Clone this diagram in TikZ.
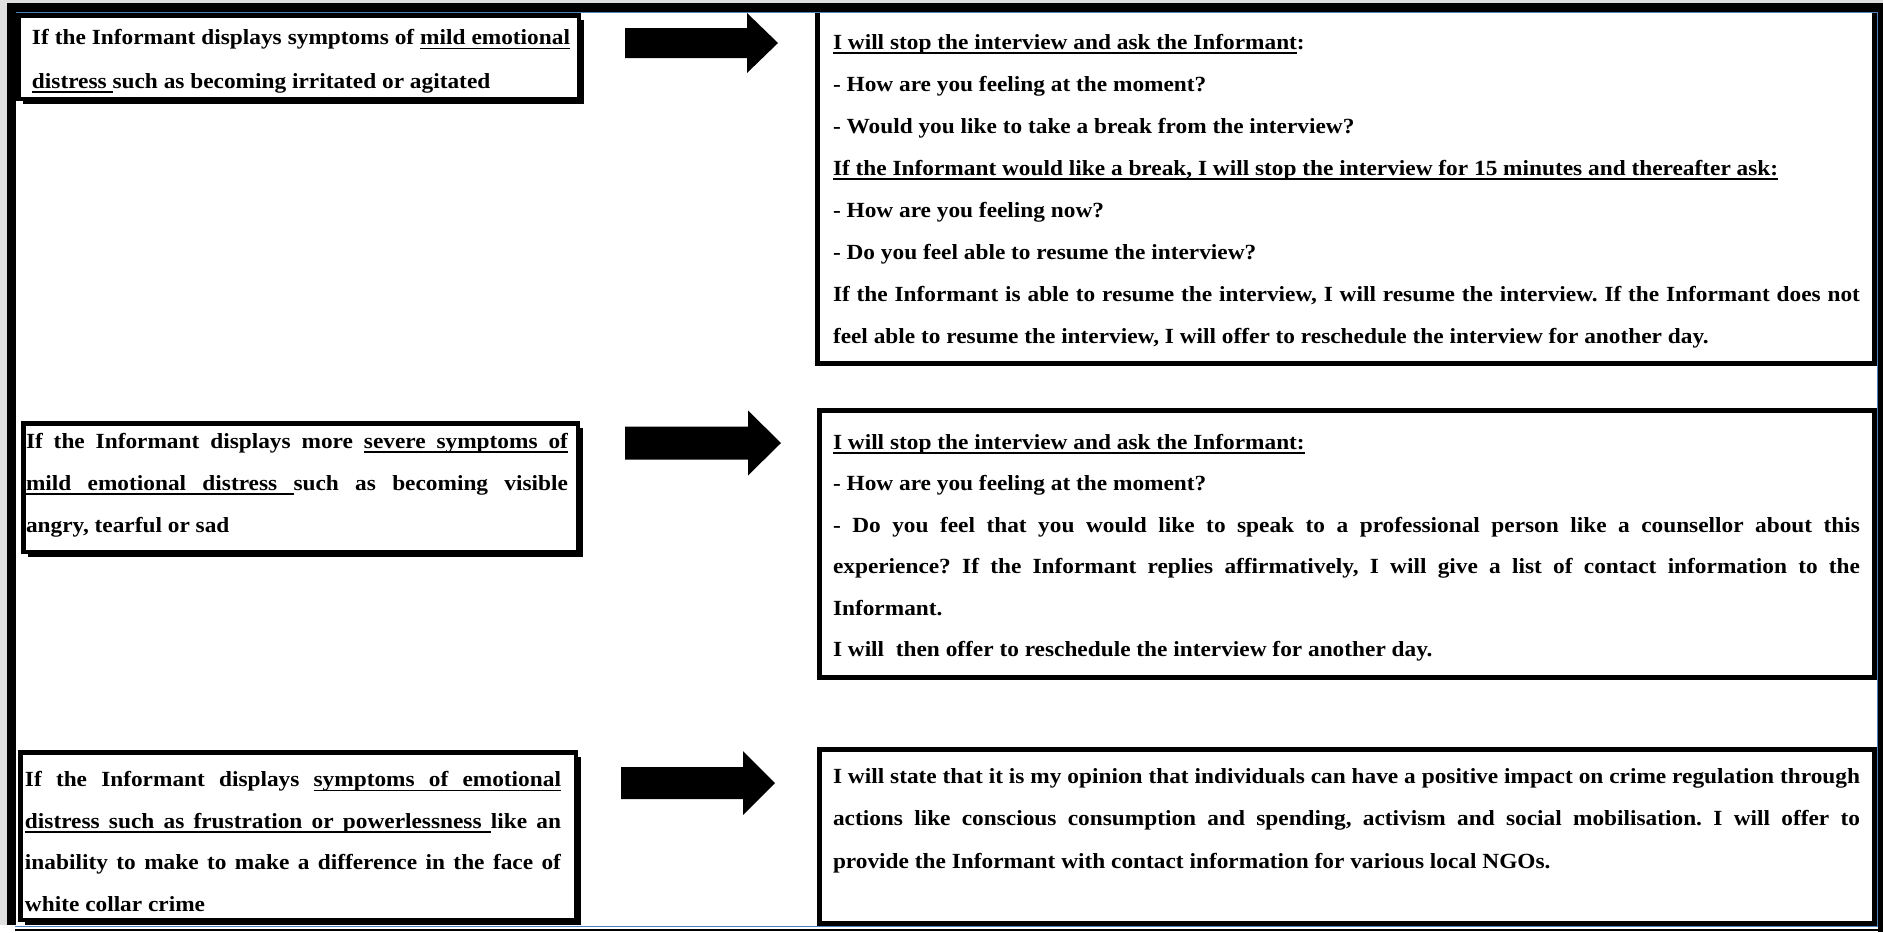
\documentclass[tikz,border=0pt]{standalone}
\usepackage{fontspec}
\setmainfont{Liberation Serif}[FakeStretch=1.08]
\usetikzlibrary{fit,shadows}

\definecolor{frameblue}{RGB}{79,129,189}
\definecolor{edgegray}{RGB}{222,222,222}

% underlining: each word gets a rule, each space a stretchable ruled glue
\newcommand\uword[1]{\setbox0\hbox{#1}\rlap{\vrule height -1.5pt depth 2.4pt width \wd0}\box0}
\newcommand\usp{\leaders\hrule height -1.5pt depth 2.4pt
  \hskip\fontdimen2\font plus\fontdimen3\font minus\fontdimen4\font\relax}
\def\ul#1{\ulA#1 \ulend}
\def\ulA#1 #2\ulend{\uword{#1}\ifx\relax#2\relax\else\usp\ulA#2\ulend\fi}

% one justified row / one left-aligned row of a text block
\newcommand\jrow[1]{\hbox to\linewidth{#1}}
\newcommand\lrow[1]{\hbox to\linewidth{#1\hfil}}
% text block: width, baseline skip, rows
\newcommand\boxtext[3]{\parbox[t]{#1}{\fontsize{10.8pt}{#2}\selectfont\bfseries\frenchspacing #3}}

% block arrow: x start, x tip, y centre, shaft half width, head half width, head length
\newcommand\blockarrow[6]{%
  \fill (#1,#3-#4) -- (#2-#6,#3-#4) -- (#2-#6,#3-#5) -- (#2,#3)
        -- (#2-#6,#3+#5) -- (#2-#6,#3+#4) -- (#1,#3+#4) -- cycle;}

\tikzset{
  rbox/.style={draw, line width=2.5pt, fill=white, inner sep=0pt, outer sep=0pt},
  lbox/.style={draw, line width=2.25pt, fill=white, inner sep=0pt, outer sep=0pt,
    drop shadow={opacity=1, fill=black, shadow xshift=2.6pt, shadow yshift=-2.6pt}},
  txt/.style={anchor=base west, inner sep=0pt, outer sep=0pt},
}

\begin{document}
\begin{tikzpicture}[x=0.5pt, y=-0.5pt]
\fill[white] (0,0) rectangle (1883,932);
\useasboundingbox (0,0) rectangle (1883,932);

% condition boxes (left) and response boxes (right)
\node[lbox, fit={(18.25,15.25) (578.75,98.75)}] (L1) {};
\node[lbox, fit={(23.25,423.25) (577.75,551.75)}] (L2) {};
\node[lbox, fit={(20.25,752.25) (575.75,919.75)}] (L3) {};
\node[rbox, fit={(817.5,10.5) (1874.5,363.5)}] (R1) {};
\node[rbox, fit={(819.5,410.5) (1874.5,677.5)}] (R2) {};
\node[rbox, fit={(819.5,749.5) (1874.5,923.5)}] (R3) {};

% outer frame
\fill[edgegray] (0,0) rectangle (7,925);
\fill[edgegray] (0,0) rectangle (1883,3);
\fill (7,3) rectangle (1883,12);
\fill (7,3) rectangle (15.5,925);
\fill (1878,3) rectangle (1883,932);
\fill (15,929) rectangle (1883,931);
\draw[frameblue, line width=0.7pt] (15.5,12.7) -- (1877.3,12.7) -- (1877.3,926.5) -- (15,926.5);

% arrows from each condition to its response
\blockarrow{625}{778}{43}{15}{30}{31}
\blockarrow{625}{781}{443}{16.5}{32.5}{33}
\blockarrow{621}{775}{783}{16}{32}{32}

% texts
\node[txt] (T1) at (32,44.5) {\boxtext{269pt}{21.75pt}{%
  \jrow{If the Informant displays symptoms of \ul{mild emotional}}
  \lrow{\ul{distress }such as becoming irritated or agitated}}};

\node[txt] (T2) at (26,448) {\boxtext{271pt}{21pt}{%
  \jrow{If the Informant displays more \ul{severe symptoms of}}
  \jrow{\ul{mild emotional distress }such as becoming visible}
  \lrow{angry, tearful or sad}}};

\node[txt] (T3) at (25,786.5) {\boxtext{268pt}{20.8pt}{%
  \jrow{If the Informant displays \ul{symptoms of emotional}}
  \jrow{\ul{distress such as frustration or powerlessness }like an}
  \jrow{inability to make to make a difference in the face of}
  \lrow{white collar crime}}};

\node[txt] (U1) at (833,49) {\boxtext{513.5pt}{21pt}{%
  \lrow{\ul{I will stop the interview and ask the Informant}:}
  \lrow{- How are you feeling at the moment?}
  \lrow{- Would you like to take a break from the interview?}
  \lrow{\ul{If the Informant would like a break, I will stop the interview for 15 minutes and thereafter ask:}}
  \lrow{- How are you feeling now?}
  \lrow{- Do you feel able to resume the interview?}
  \jrow{If the Informant is able to resume the interview, I will resume the interview. If the Informant does not}
  \lrow{feel able to resume the interview, I will offer to reschedule the interview for another day.}}};

\node[txt] (U2) at (833,449) {\boxtext{513.5pt}{20.75pt}{%
  \lrow{\ul{I will stop the interview and ask the Informant:}}
  \lrow{- How are you feeling at the moment?}
  \jrow{- Do you feel that you would like to speak to a professional person like a counsellor about this}
  \jrow{experience? If the Informant replies affirmatively, I will give a list of contact information to the}
  \lrow{Informant.}
  \lrow{I will\ \ then offer to reschedule the interview for another day.}}};

\node[txt] (U3) at (833,783.5) {\boxtext{513.5pt}{21.15pt}{%
  \jrow{I will state that it is my opinion that individuals can have a positive impact on crime regulation through}
  \jrow{actions like conscious consumption and spending, activism and social mobilisation. I will offer to}
  \lrow{provide the Informant with contact information for various local NGOs.}}};
\end{tikzpicture}
\end{document}
